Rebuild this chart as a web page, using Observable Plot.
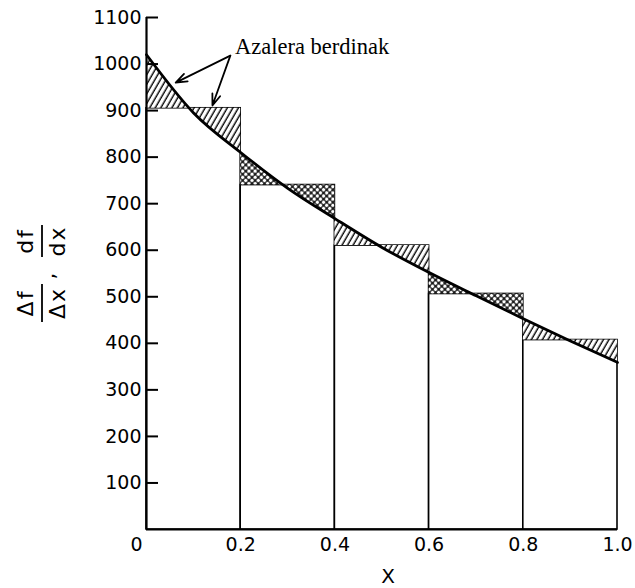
<!DOCTYPE html>
<html>
<head>
<meta charset="utf-8">
<script src="https://cdn.jsdelivr.net/npm/d3@7"></script>
<script src="https://cdn.jsdelivr.net/npm/@observablehq/plot@0.6"></script>
<style>
  html, body { margin: 0; padding: 0; background: #fff; }
  #chart { width: 635px; height: 588px; }
</style>
</head>
<body>
<div id="chart"></div>
<script>
// ---- data ----
const barStarts  = [0, 0.2, 0.4, 0.6, 0.8];
const barEnds    = [0.2, 0.4, 0.6, 0.8, 1.0];
const barHeights = [905, 740, 610, 506, 407];
const barPatterns = ["hatchLines", "hatchDots", "hatchLines", "hatchDots", "hatchLines"];

const curveX = [0, 0.1, 0.2, 0.3, 0.4, 0.5, 0.6, 0.7, 0.8, 0.9, 1.0];
const curveY = [1020, 895, 810, 733, 668, 606, 552, 502, 453, 405, 359];

const xTicks      = [0, 0.2, 0.4, 0.6, 0.8, 1.0];
const xTickLabels = ["0", "0.2", "0.4", "0.6", "0.8", "1.0"];
const yTicks      = [100, 200, 300, 400, 500, 600, 700, 800, 900, 1000, 1100];

const xLabel = "X";
const yLabelNumerators   = ["Δf", "df"];
const yLabelDenominators = ["Δx", "dx"];

const annotationText = "Azalera berdinak";
const annotationX = 0.188;
const annotationY = 1038;
const arrowStartX = 0.178;
const arrowStartY = 1018;
const arrowTipX = [0.062, 0.140];
const arrowTipY = [960, 911];

// ---- derived tables ----
const bars = barStarts.map((x0, i) => ({x0, x1: barEnds[i], h: barHeights[i], pattern: barPatterns[i]}));
const curve = curveX.map((x, i) => ({x, y: curveY[i]}));
const tickFont = "DejaVu Sans";

function patternDefs() {
  const g = d3.create("svg:g");
  const defs = g.append("defs");
  const p1 = defs.append("pattern").attr("id", "hatchLines")
    .attr("patternUnits", "userSpaceOnUse").attr("width", 4.8).attr("height", 4.8)
    .attr("patternTransform", "rotate(30)");
  p1.append("rect").attr("width", 4.8).attr("height", 4.8).attr("fill", "white");
  p1.append("line").attr("x1", 1.2).attr("y1", 0).attr("x2", 1.2).attr("y2", 4.8)
    .attr("stroke", "black").attr("stroke-width", 1.4);
  const p2 = defs.append("pattern").attr("id", "hatchDots")
    .attr("patternUnits", "userSpaceOnUse").attr("width", 4.4).attr("height", 4.4)
    .attr("patternTransform", "rotate(45)");
  p2.append("rect").attr("width", 4.4).attr("height", 4.4).attr("fill", "#1a1a1a");
  p2.append("circle").attr("cx", 2.2).attr("cy", 2.2).attr("r", 1.7).attr("fill", "white");
  return g.node();
}

function yLabelMark() {
  const g = d3.create("svg:g")
    .attr("font-family", tickFont).attr("font-size", 22).attr("fill", "black");
  const centers = [303, 241];
  const halfBar = [19, 16];
  yLabelNumerators.forEach((num, i) => {
    const f = g.append("g").attr("transform", `translate(42,${centers[i]}) rotate(-90)`);
    f.append("text").attr("x", 0).attr("y", -9).attr("text-anchor", "middle")
      .attr("letter-spacing", 2).text(num);
    f.append("line").attr("x1", -halfBar[i]).attr("x2", halfBar[i]).attr("y1", 0).attr("y2", 0)
      .attr("stroke", "black").attr("stroke-width", 1.8);
    f.append("text").attr("x", 0).attr("y", 23).attr("text-anchor", "middle")
      .attr("letter-spacing", 2).text(yLabelDenominators[i]);
  });
  g.append("g").attr("transform", "translate(42,276) rotate(-90)")
    .append("text").attr("x", 0).attr("y", 13).attr("text-anchor", "middle").text(",");
  return g.node();
}

const areaMarks = bars.map(b =>
  Plot.areaY(curve.filter(d => d.x >= b.x0 - 1e-9 && d.x <= b.x1 + 1e-9), {
    x: "x", y1: () => b.h, y2: "y", fill: `url(#${b.pattern})`, curve: "monotone-x"
  })
);

const chart = Plot.plot({
  width: 635,
  height: 588,
  marginLeft: 146,
  marginRight: 18,
  marginTop: 17,
  marginBottom: 59,
  x: {domain: [0, 1], axis: null},
  y: {domain: [0, 1100], axis: null},
  style: {background: "white", color: "black", fontFamily: tickFont, fontSize: "19px"},
  marks: [
    patternDefs,
    Plot.rectY(bars, {x1: "x0", x2: "x1", y1: 0, y2: "h", fill: "white", stroke: "black", strokeWidth: 1.6}),
    ...areaMarks,
    Plot.line(curve, {x: "x", y: "y", curve: "monotone-x", stroke: "black", strokeWidth: 2.8}),
    Plot.ruleX([0], {stroke: "black", strokeWidth: 2.2}),
    Plot.ruleY([0], {stroke: "black", strokeWidth: 2.2}),
    Plot.axisY(yTicks, {anchor: "left", tickSize: -12, tickPadding: 17, strokeWidth: 2,
      fontSize: 19, fontFamily: tickFont, label: null, tickFormat: d => String(d)}),
    Plot.axisX(xTicks.slice(1), {anchor: "bottom", tickSize: 0, tickPadding: 8, fontSize: 19,
      fontFamily: tickFont, label: null, tickFormat: d => xTickLabels[xTicks.indexOf(d)]}),
    Plot.axisX(xTicks.slice(0, 1), {anchor: "bottom", tickSize: 0, tickPadding: 8, dx: -10, fontSize: 19,
      fontFamily: tickFont, label: null, tickFormat: d => xTickLabels[xTicks.indexOf(d)]}),
    Plot.text([xLabel], {frameAnchor: "bottom", dx: 6, dy: 47, lineAnchor: "middle",
      fontSize: 20, fontFamily: tickFont, text: d => d}),
    yLabelMark,
    Plot.arrow(arrowTipX.map((_, i) => i), {
      x1: () => arrowStartX, y1: () => arrowStartY,
      x2: i => arrowTipX[i], y2: i => arrowTipY[i],
      stroke: "black", strokeWidth: 1.8, headLength: 10, headAngle: 40
    }),
    Plot.text([annotationText], {x: () => annotationX, y: () => annotationY, text: d => d,
      textAnchor: "start", lineAnchor: "middle", fontFamily: "Liberation Serif", fontSize: 22.5})
  ]
});

document.getElementById("chart").appendChild(chart);
</script>
</body>
</html>
